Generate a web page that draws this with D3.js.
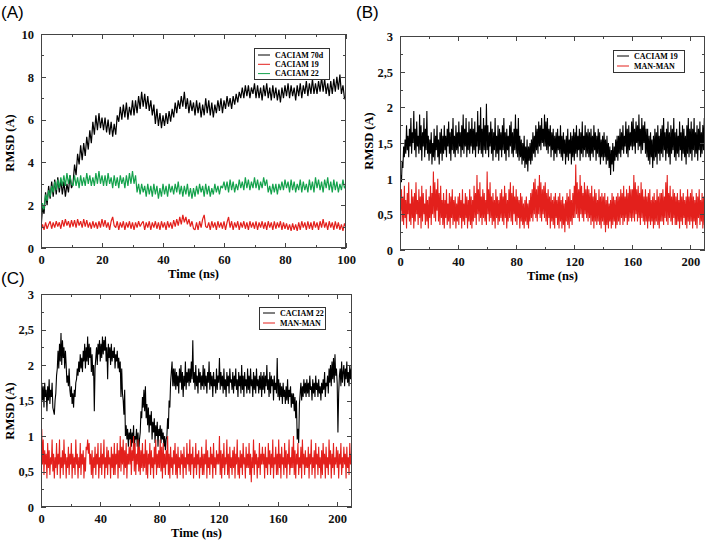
<!DOCTYPE html>
<html><head><meta charset="utf-8">
<script src="https://cdn.jsdelivr.net/npm/d3@7"></script>
<style>body{margin:0;background:#fff}svg{display:block}</style>
</head><body><svg id="c" width="709" height="544"></svg>
<script>
// ---------- DATA ----------
// Panel A: 0..100 ns, every 0.5 ns
const timeEndA = 100;
const caciam70dA = [
0.9,1.9,1.6,2.6,2.0,2.9,2.3,3.1,2.4,3.2,2.5,3.3,2.6,3.2,2.5,3.1,2.4,3.0,2.6,3.4,2.8,
3.0,3.9,3.4,4.4,3.9,4.8,4.1,4.9,4.3,5.2,4.6,5.5,4.9,5.9,5.3,6.2,5.5,6.3,5.6,6.1,
5.5,6.1,5.4,6.0,5.3,5.9,5.2,5.8,5.3,6.2,5.9,6.6,6.0,6.7,6.1,6.8,6.0,6.6,6.2,6.9,
6.2,6.9,6.3,7.1,6.5,7.3,6.6,7.2,6.5,7.1,6.4,6.9,6.2,6.7,5.8,6.5,5.7,6.3,5.6,6.2,
5.7,6.3,5.8,6.4,5.9,6.5,6.1,6.8,6.3,6.9,6.5,7.1,6.6,7.3,6.5,7.0,6.3,6.9,6.4,6.8,
6.2,6.9,6.3,6.8,6.1,6.7,6.2,7.0,6.3,6.9,6.2,6.8,6.1,6.7,6.3,6.9,6.4,7.0,6.3,6.9,
6.5,7.1,6.6,7.0,6.5,7.1,6.7,7.2,6.8,7.3,7.0,7.5,7.0,7.6,7.1,7.6,7.0,7.5,7.2,7.7,
7.0,7.6,7.0,7.5,6.9,7.6,7.1,7.7,7.0,7.5,6.9,7.6,7.0,7.5,6.9,7.4,6.8,7.5,7.0,7.6,
7.1,7.7,7.0,7.6,7.1,7.5,6.9,7.6,7.1,7.7,7.0,7.6,7.2,7.8,7.1,7.7,7.2,7.9,7.2,7.7,
7.2,7.8,7.3,8.0,7.3,7.9,7.2,7.7,7.1,7.8,7.2,7.9,7.3,8.0,7.4,8.1,7.2,7.6,7.0,6.9];
const caciam19A = [
0.8,1.1,0.85,1.2,0.9,1.1,1.25,0.9,1.2,0.95,1.25,1.0,1.2,0.9,1.3,1.0,1.35,1.05,1.25,0.95,1.3,
1.0,1.3,0.95,1.35,1.05,1.25,0.95,1.35,1.0,1.3,0.95,1.2,0.9,1.25,0.95,1.2,0.9,1.25,0.95,1.35,
1.0,1.3,0.95,1.2,0.85,1.25,1.45,1.05,0.95,1.25,0.85,1.2,0.95,1.25,0.85,1.2,0.95,1.25,0.9,1.2,
0.85,1.2,0.95,1.25,1.0,1.15,1.25,0.85,1.2,0.95,1.25,0.85,1.2,0.95,1.25,0.9,1.2,0.85,1.25,0.95,
1.2,0.85,1.25,0.95,1.2,0.9,1.3,1.0,1.35,1.05,1.45,1.1,1.55,1.2,1.45,1.1,1.35,1.0,1.25,0.9,
0.85,1.2,0.85,1.25,0.95,1.35,1.55,1.0,0.95,1.2,0.85,1.25,0.95,1.2,0.85,1.25,0.95,1.2,0.9,1.25,
0.85,1.2,1.45,0.95,1.25,0.85,1.2,0.95,1.25,0.85,1.2,0.95,1.25,0.9,1.2,0.85,1.25,0.95,1.2,0.9,
1.25,0.85,1.2,0.95,1.25,0.9,1.2,0.85,1.25,0.95,1.2,0.85,1.25,0.9,1.2,0.95,1.25,0.85,1.2,0.9,
1.15,0.85,1.1,0.8,1.15,0.85,1.1,0.8,1.2,0.85,1.25,0.95,1.2,0.85,1.25,0.9,1.2,0.85,1.25,0.95,
1.2,0.85,1.25,0.95,1.35,0.95,1.2,0.85,1.25,0.95,1.2,0.85,1.25,0.9,1.2,0.85,1.1,0.8,1.15,0.95];
const caciam22A = [
1.5,2.1,1.8,2.5,2.2,2.7,2.4,2.9,2.6,3.1,2.7,3.2,2.8,3.3,2.9,3.4,2.9,3.5,3.0,3.4,3.0,
2.9,3.4,2.9,3.3,2.8,3.4,2.9,3.3,2.9,3.5,3.0,3.4,2.9,3.3,2.9,3.5,3.0,3.6,3.0,3.4,
2.9,3.4,2.9,3.5,3.0,3.3,2.8,3.4,2.9,3.3,2.8,3.4,3.0,3.3,2.8,3.4,2.9,3.5,3.0,3.6,
3.0,3.4,2.6,3.0,2.5,3.0,2.6,2.9,2.4,3.0,2.5,2.9,2.4,3.0,2.5,2.9,2.3,2.8,2.4,3.0,
2.5,2.9,2.4,3.0,2.6,2.9,2.5,3.0,2.6,3.1,2.5,2.9,2.4,2.9,2.5,3.0,2.4,2.8,2.3,2.8,
2.4,2.9,2.5,3.0,2.6,2.9,2.4,3.0,2.5,2.9,2.4,2.8,2.5,3.0,2.6,2.9,2.5,2.9,2.8,3.1,
2.7,3.1,2.6,3.2,2.7,3.1,2.6,3.0,2.7,3.2,2.8,3.1,2.7,3.3,2.8,3.2,2.7,3.1,2.8,3.3,
2.8,3.2,2.7,3.1,2.8,3.3,2.9,3.2,2.6,2.9,2.5,3.0,2.6,3.0,2.5,3.0,2.7,3.1,2.7,3.2,
2.8,3.1,2.6,3.2,2.7,3.1,2.6,3.0,2.7,3.2,2.6,3.1,2.7,3.0,2.6,3.2,2.7,3.1,2.6,3.3,
2.8,3.2,2.7,3.1,2.6,3.2,2.8,3.3,2.7,3.1,2.6,3.2,2.7,3.1,2.6,3.0,2.7,3.2,2.8,2.9];

// Panel B: 0..210 ns, every 0.5 ns
const timeEndB = 210;
const caciam19B = [
0.80,1.05,0.95,1.25,1.15,1.45,1.30,1.55,1.35,1.75,1.40,1.60,1.30,1.70,1.45,1.85,1.35,1.65,1.50,1.95,
1.40,1.70,1.30,1.80,1.45,1.60,1.35,1.90,1.40,1.75,1.25,1.65,1.45,1.85,1.30,1.70,1.40,1.95,1.35,1.60,
1.25,1.55,1.35,1.65,1.20,1.50,1.30,1.70,1.25,1.60,1.40,1.75,1.30,1.55,1.20,1.65,1.35,1.70,1.25,1.60,
1.35,1.75,1.40,1.60,1.30,1.70,1.45,1.80,1.35,1.65,1.25,1.70,1.40,1.85,1.35,1.60,1.30,1.75,1.40,1.65,
1.35,1.80,1.45,1.65,1.30,1.75,1.40,1.90,1.35,1.70,1.45,1.85,1.30,1.65,1.40,1.80,1.35,1.70,1.45,1.85,
1.35,1.70,1.40,1.80,1.30,1.65,1.45,1.95,1.35,1.75,1.40,2.00,1.35,1.70,1.30,1.85,1.40,1.75,1.35,2.05,
1.40,1.75,1.30,1.65,1.45,1.80,1.35,1.70,1.25,1.65,1.40,1.85,1.30,1.60,1.35,1.75,1.25,1.70,1.40,1.65,
1.30,1.75,1.40,1.85,1.35,1.65,1.25,1.70,1.40,1.60,1.30,1.75,1.45,1.80,1.35,1.65,1.30,1.70,1.40,1.90,
1.35,1.70,1.30,1.85,1.25,1.60,1.30,1.55,1.20,1.50,1.25,1.60,1.15,1.45,1.20,1.55,1.10,1.45,1.25,1.50,
1.20,1.55,1.25,1.65,1.35,1.60,1.30,1.75,1.40,1.70,1.35,1.80,1.45,1.75,1.40,1.85,1.50,1.70,1.45,1.90,
1.45,1.80,1.40,1.85,1.35,1.70,1.45,1.75,1.30,1.65,1.40,1.70,1.25,1.60,1.35,1.65,1.30,1.70,1.40,1.60,
1.35,1.75,1.30,1.60,1.25,1.65,1.35,1.55,1.20,1.60,1.30,1.70,1.25,1.55,1.35,1.65,1.20,1.60,1.30,1.70,
1.25,1.65,1.35,1.75,1.30,1.60,1.40,1.70,1.25,1.65,1.35,1.80,1.30,1.60,1.40,1.75,1.30,1.65,1.35,1.70,
1.30,1.65,1.25,1.70,1.35,1.60,1.30,1.75,1.40,1.65,1.25,1.60,1.35,1.70,1.30,1.65,1.20,1.55,1.30,1.60,
1.25,1.65,1.30,1.55,1.20,1.60,1.25,1.50,1.15,1.45,1.05,1.40,1.20,1.50,1.10,1.45,1.25,1.55,1.30,1.60,
1.25,1.60,1.35,1.70,1.30,1.65,1.40,1.75,1.35,1.60,1.45,1.80,1.35,1.70,1.30,1.75,1.40,1.65,1.45,1.80,
1.40,1.85,1.45,1.70,1.35,1.80,1.50,1.75,1.40,1.90,1.45,1.70,1.35,1.85,1.40,1.75,1.50,1.80,1.35,1.70,
1.30,1.70,1.25,1.60,1.20,1.65,1.30,1.55,1.15,1.60,1.25,1.70,1.30,1.65,1.20,1.75,1.35,1.60,1.25,1.70,
1.35,1.75,1.30,1.85,1.40,1.65,1.25,1.70,1.35,1.80,1.30,1.65,1.20,1.75,1.35,1.70,1.40,1.85,1.30,1.65,
1.25,1.70,1.35,1.60,1.30,1.80,1.40,1.65,1.25,1.75,1.35,1.70,1.30,1.60,1.20,1.75,1.35,1.85,1.30,1.70,
1.35,1.80,1.25,1.70,1.40,1.85,1.30,1.65,1.35,1.75,1.25,1.70,1.40,1.80,1.30,1.65,1.35,1.75,1.40,1.85,1.45];
const manmanB = [
1.00,0.55,0.85,0.40,0.75,0.35,0.90,0.45,0.70,0.30,0.80,0.50,0.95,0.40,0.65,0.35,0.85,0.45,0.75,0.30,
0.80,0.40,0.95,0.50,0.70,0.35,0.85,0.45,0.75,0.30,0.90,0.40,0.80,0.50,0.65,0.35,0.85,0.40,0.70,0.30,
0.75,0.45,0.90,0.35,0.80,0.50,1.10,0.45,0.95,0.40,0.85,0.55,1.00,0.40,0.80,0.35,0.90,0.45,0.70,0.35,
0.80,0.30,0.70,0.45,0.85,0.35,0.65,0.40,0.80,0.30,0.75,0.45,0.85,0.35,0.70,0.40,0.75,0.30,0.65,0.40,
0.75,0.35,0.80,0.45,0.70,0.30,0.85,0.40,0.65,0.35,0.80,0.45,0.75,0.30,0.70,0.40,0.85,0.35,0.75,0.30,
0.70,0.40,0.90,0.45,0.80,0.35,1.05,0.50,0.85,0.40,0.95,0.45,0.75,0.35,0.85,0.45,0.80,0.40,0.70,0.35,
1.10,0.50,0.85,0.40,0.95,0.45,0.75,0.35,0.80,0.40,0.70,0.30,0.85,0.45,0.75,0.35,0.70,0.40,0.80,0.45,
0.85,0.40,0.75,0.35,0.90,0.45,0.80,0.30,0.70,0.40,0.85,0.45,0.95,0.40,0.80,0.35,0.90,0.50,0.75,0.40,
0.85,0.35,0.75,0.45,0.70,0.30,0.80,0.40,0.75,0.35,0.65,0.30,0.70,0.40,0.75,0.35,0.65,0.30,0.70,0.40,
0.80,0.45,0.85,0.40,0.95,0.50,1.00,0.45,0.85,0.40,0.90,0.50,1.05,0.45,0.95,0.40,0.85,0.50,0.90,0.45,
0.95,0.40,0.80,0.35,0.85,0.45,0.75,0.30,0.80,0.40,0.70,0.35,0.75,0.30,0.80,0.45,0.70,0.35,0.75,0.30,
0.80,0.40,0.70,0.30,0.75,0.35,0.65,0.25,0.70,0.40,0.80,0.35,0.75,0.30,0.85,0.40,0.70,0.35,0.80,0.45,
0.90,0.45,1.20,0.50,0.95,0.45,0.85,0.40,1.05,0.50,0.90,0.45,0.80,0.40,0.95,0.50,0.85,0.45,0.90,0.40,
0.85,0.45,0.80,0.35,0.90,0.40,0.75,0.30,0.85,0.40,0.80,0.35,0.70,0.40,0.85,0.35,0.75,0.30,0.80,0.40,
0.75,0.35,0.80,0.25,0.70,0.35,0.75,0.30,0.65,0.40,0.70,0.30,0.80,0.35,0.75,0.40,0.70,0.30,0.75,0.35,
0.80,0.40,0.75,0.35,0.85,0.45,0.80,0.35,0.90,0.40,0.75,0.45,0.85,0.35,0.80,0.40,0.90,0.45,0.85,0.40,
0.85,0.45,1.05,0.40,0.95,0.50,0.85,0.40,0.90,0.45,0.80,0.35,0.95,0.45,0.85,0.40,0.75,0.35,0.85,0.40,
0.75,0.30,0.80,0.40,0.85,0.35,0.70,0.40,0.75,0.30,0.80,0.35,0.70,0.40,0.85,0.35,0.75,0.30,0.80,0.40,
0.80,0.40,0.85,0.35,0.75,0.45,0.95,0.40,1.05,0.35,0.80,0.45,0.90,0.40,0.75,0.35,0.85,0.45,0.80,0.35,
0.75,0.35,0.80,0.40,0.70,0.30,0.85,0.40,0.75,0.35,0.80,0.45,0.70,0.35,0.75,0.30,0.85,0.40,0.75,0.35,
0.80,0.40,0.85,0.30,0.75,0.40,0.70,0.35,0.80,0.30,0.75,0.45,0.85,0.35,0.70,0.40,0.80,0.30,0.75,0.35,0.55];

// Panel C: 0..210 ns, every 0.5 ns
const timeEndC = 210;
const caciam22C = [
1.00,1.75,1.50,1.70,1.40,1.75,1.55,1.65,1.35,1.70,1.50,1.80,1.45,1.65,1.55,1.75,1.40,1.35,1.30,1.50,
1.60,1.85,1.95,2.20,1.95,2.30,2.05,2.45,2.00,2.35,2.10,2.25,1.95,2.20,2.00,1.75,1.85,1.70,1.95,1.65,
1.55,1.70,1.45,1.60,1.40,1.65,1.55,1.75,1.80,1.95,1.85,2.05,1.90,2.15,1.95,2.10,1.90,2.20,2.05,2.30,
1.95,2.25,2.05,2.40,2.00,2.30,2.10,2.25,1.90,2.15,1.85,2.00,1.35,1.95,2.10,2.25,2.00,2.30,2.15,2.35,
2.05,2.30,2.10,2.40,2.15,2.35,2.20,2.40,2.05,2.25,1.80,2.30,2.10,2.25,2.00,2.30,2.05,2.20,2.10,2.25,
1.95,2.15,2.05,2.20,1.95,2.10,1.90,2.05,1.55,1.95,1.60,1.50,1.30,1.65,1.00,1.15,0.95,1.10,0.85,1.05,
0.95,1.10,0.85,1.05,0.90,1.15,0.80,1.00,0.95,1.10,0.85,1.05,0.75,0.95,1.05,1.35,1.25,1.55,1.40,1.65,
1.35,1.70,1.25,1.45,1.15,1.40,1.05,1.30,1.15,1.35,0.95,1.20,1.05,1.25,0.90,1.15,1.00,1.20,0.85,1.10,
1.00,1.15,0.90,1.10,0.95,1.05,0.85,1.00,0.80,0.95,1.00,1.25,1.10,1.50,1.40,1.75,1.90,2.05,1.70,1.95,
1.70,1.95,1.65,1.90,1.70,1.85,1.60,1.95,1.75,2.00,1.65,1.90,1.55,1.85,1.70,2.05,1.65,1.90,1.75,1.95,
1.70,1.95,1.75,2.05,1.80,2.35,1.75,1.90,1.65,2.00,1.70,1.85,1.60,1.95,1.75,1.90,1.65,1.85,1.70,2.00,
1.65,1.95,1.70,1.85,1.60,1.90,1.75,2.05,1.65,1.90,1.70,1.85,1.55,1.90,1.70,1.80,1.60,1.95,1.65,1.85,
1.75,2.10,1.65,1.90,1.70,1.85,1.60,1.95,1.65,1.80,1.55,1.90,1.70,1.85,1.60,1.95,1.75,1.80,1.65,1.90,
1.60,1.85,1.70,1.95,1.65,1.80,1.55,1.90,1.70,1.85,1.60,2.00,1.65,1.85,1.55,1.90,1.70,1.80,1.60,1.95,
1.65,1.85,1.60,1.95,1.70,1.80,1.55,1.90,1.65,1.85,1.60,1.95,1.70,1.80,1.60,1.85,1.65,1.90,1.55,1.85,
1.65,1.90,1.60,1.85,1.70,2.00,1.65,1.80,1.55,1.90,1.60,1.85,1.70,1.80,1.50,1.85,1.65,1.75,1.60,2.10,
1.55,1.80,1.50,1.75,1.55,1.70,1.45,1.75,1.55,1.65,1.45,1.70,1.50,1.80,1.45,1.65,1.55,1.70,1.40,1.60,
1.45,1.60,1.35,1.55,1.25,1.50,0.95,1.10,0.90,1.45,1.60,1.75,1.50,1.70,1.55,1.80,1.60,1.75,1.55,1.80,
1.60,1.75,1.55,1.85,1.65,1.70,1.50,1.80,1.60,1.75,1.55,1.85,1.65,1.75,1.55,1.80,1.60,1.70,1.50,1.75,
1.60,1.80,1.65,1.90,1.55,1.75,1.70,1.85,1.60,1.95,1.75,2.00,1.70,2.05,1.80,2.10,1.75,2.15,1.85,1.95,
1.75,1.05,1.60,1.85,1.95,1.70,2.05,1.75,1.90,2.00,1.70,1.95,1.80,2.05,1.75,1.90,1.70,2.00,1.80,1.95,1.85];
const manmanC = [
0.80,1.10,0.60,0.95,0.45,0.80,0.60,0.75,0.40,0.90,0.55,0.80,0.45,0.70,0.60,0.95,0.50,0.75,0.40,0.70,
0.55,0.90,0.45,0.75,0.60,0.95,0.40,0.70,0.55,0.80,0.45,0.95,0.60,0.75,0.40,0.70,0.55,0.85,0.45,0.75,
0.60,0.90,0.40,0.75,0.55,0.70,0.45,0.95,0.60,0.75,0.40,0.70,0.55,0.90,0.45,0.75,0.60,0.80,0.40,0.70,
0.50,0.85,0.80,0.95,0.75,0.90,0.60,0.75,0.45,0.80,0.40,0.70,0.55,0.85,0.45,0.75,0.60,0.90,0.40,0.70,
0.55,0.90,0.45,0.75,0.60,0.95,0.40,0.70,0.55,0.85,0.45,0.80,0.60,0.70,0.40,0.85,0.55,0.75,0.45,0.90,
0.45,0.75,0.60,0.90,0.40,0.80,0.55,1.00,0.50,0.85,0.60,0.95,0.45,0.80,0.55,0.90,0.40,0.75,0.60,0.85,
0.60,0.95,0.45,0.80,0.65,1.00,0.50,0.90,0.45,0.75,0.60,0.95,0.50,0.85,0.45,0.80,0.55,0.90,0.50,0.75,
0.55,0.95,0.45,0.80,0.40,0.75,0.60,0.90,0.45,0.80,0.55,0.70,0.40,0.85,0.60,0.95,0.45,0.75,0.55,0.80,
0.55,0.95,0.50,0.85,0.40,0.90,0.55,0.75,0.45,0.80,0.60,1.00,0.45,0.75,0.40,0.85,0.55,0.70,0.45,0.80,
0.60,0.90,0.45,0.75,0.40,0.85,0.55,0.70,0.45,0.80,0.60,0.75,0.40,0.85,0.55,0.70,0.45,0.90,0.60,0.75,
0.50,0.95,0.45,0.75,0.60,0.85,0.40,0.70,0.55,0.90,0.45,0.75,0.60,0.80,0.40,0.70,0.55,0.85,0.45,0.75,
0.45,0.75,0.60,0.95,0.40,0.80,0.55,0.70,0.45,0.85,0.60,0.75,0.40,0.90,0.55,0.70,0.45,0.80,0.60,0.75,
0.60,1.00,0.45,0.80,0.40,0.75,0.55,0.90,0.45,0.70,0.60,0.95,0.45,0.75,0.40,0.85,0.55,0.70,0.45,0.80,
0.55,0.85,0.40,0.75,0.60,0.95,0.45,0.70,0.40,0.80,0.55,0.75,0.45,0.90,0.60,0.70,0.40,0.85,0.55,0.75,
0.55,0.90,0.45,0.75,0.35,0.70,0.55,0.95,0.45,0.80,0.60,0.75,0.40,0.70,0.55,0.90,0.45,0.75,0.60,0.85,
0.60,0.75,0.40,0.85,0.55,0.70,0.45,0.90,0.60,0.80,0.45,0.75,0.55,0.95,0.40,0.70,0.60,0.85,0.45,0.75,
0.45,0.95,0.55,0.75,0.40,0.85,0.60,0.70,0.45,0.90,0.55,0.80,0.40,0.75,0.60,0.95,0.45,0.70,0.55,0.85,
0.55,1.00,0.45,0.80,0.40,0.75,0.60,0.90,0.45,0.70,0.55,0.85,0.40,0.95,0.60,0.75,0.45,0.80,0.55,0.70,
0.55,0.85,0.40,0.75,0.60,0.95,0.45,0.70,0.55,0.80,0.40,0.90,0.60,0.75,0.45,0.85,0.55,0.70,0.40,0.80,
0.45,0.90,0.60,0.75,0.40,0.85,0.55,0.70,0.45,0.95,0.60,0.80,0.40,0.75,0.55,0.90,0.45,0.70,0.60,0.85,
0.55,0.80,0.40,0.75,0.60,0.90,0.45,0.70,0.55,0.85,0.60,0.75,0.40,0.85,0.55,0.70,0.45,0.90,0.60,0.75,0.60];

// Ticks and legend labels
const xTicksA = [0,20,40,60,80,100], xMinorA = [10,30,50,70,90];
const yTicksA = [0,2,4,6,8,10], yMinorA = [1,3,5,7,9];
const xTicksBC = [0,40,80,120,160,200], xMinorBC = [20,60,100,140,180];
const yTicksBC = [0,0.5,1,1.5,2,2.5,3], yMinorBC = [0.25,0.75,1.25,1.75,2.25,2.75];
const legendA = ["CACIAM 70d","CACIAM 19","CACIAM 22"];
const legendB = ["CACIAM 19","MAN-MAN"];
const legendC = ["CACIAM 22","MAN-MAN"];

// ---------- DRAW ----------
const BLACK="#000", RED="#e3201c", GREEN="#14a24c";
const SERIF="'Liberation Serif','Times New Roman',Times,serif";
const SANS="'Liberation Sans',Arial,Helvetica,sans-serif";
const svg=d3.select('#c');
const fmt=d=>String(d).replace('.',',');
const AX="#444";

function panel(p){
  const g=svg.append('g');
  const x=d3.scaleLinear().domain([0,p.xMax]).range([p.left,p.right]);
  const y=d3.scaleLinear().domain([0,p.yMax]).range([p.bottom,p.top]);
  const cid='clip'+p.name;
  svg.append('clipPath').attr('id',cid).append('rect')
    .attr('x',p.left).attr('y',p.top).attr('width',p.right-p.left).attr('height',p.bottom-p.top);
  const lg=g.append('g').attr('clip-path',`url(#${cid})`);
  p.series.forEach(s=>{
    const n=s.values.length;
    const line=d3.line().x((d,i)=>x(i*p.xMax/(n-1))).y(d=>y(d));
    lg.append('path').attr('d',line(s.values)).attr('fill','none')
      .attr('stroke',s.color).attr('stroke-width',p.sw).attr('stroke-linejoin','bevel');
  });
  g.append('rect').attr('x',p.left+0.5).attr('y',p.top+0.5)
    .attr('width',p.right-p.left-1).attr('height',p.bottom-p.top-1)
    .attr('fill','none').attr('stroke',AX).attr('stroke-width',1);
  function ax(gen,tr,vals,size,labels){
    const a=g.append('g').attr('transform',tr)
      .call(gen.tickValues(vals).tickSize(-size).tickFormat(labels?fmt:''));
    a.select('.domain').remove();
    a.selectAll('.tick line').attr('stroke',AX).attr('shape-rendering','crispEdges');
    a.selectAll('text').attr('font-family',SERIF).attr('font-weight','bold').attr('font-size',12.5).attr('fill','#111');
    return a;
  }
  const bx=ax(d3.axisBottom(x),`translate(0,${p.bottom})`,p.xTicks,5,true);
  bx.selectAll('text').attr('y',16).attr('dy',null);
  ax(d3.axisBottom(x),`translate(0,${p.bottom})`,p.xMinor,3,false);
  ax(d3.axisTop(x),`translate(0,${p.top})`,p.xTicks,5,false);
  ax(d3.axisTop(x),`translate(0,${p.top})`,p.xMinor,3,false);
  const ly=ax(d3.axisLeft(y),`translate(${p.left},0)`,p.yTicks,5,true);
  ly.selectAll('text').attr('x',-7).attr('dy','0.35em');
  ax(d3.axisLeft(y),`translate(${p.left},0)`,p.yMinor,3,false);
  ax(d3.axisRight(y),`translate(${p.right},0)`,p.yTicks,5,false);
  ax(d3.axisRight(y),`translate(${p.right},0)`,p.yMinor,3,false);
  g.append('text').attr('x',(p.left+p.right)/2).attr('y',p.bottom+30).attr('text-anchor','middle')
    .attr('font-family',SERIF).attr('font-weight','bold').attr('font-size',12.5).text('Time (ns)');
  g.append('text').attr('transform',`translate(${p.left-31},${p.yTitleC}) rotate(-90)`)
    .attr('text-anchor','middle').attr('dominant-baseline','central')
    .attr('font-family',SERIF).attr('font-weight','bold').attr('font-size',12.5).text('RMSD (A)');
  g.append('text').attr('x',p.tagX).attr('y',p.tagY).attr('font-family',SANS).attr('font-size',17).text(p.tag);
  const L=p.legend;
  g.append('rect').attr('x',L.x+0.5).attr('y',L.y+0.5).attr('width',L.w).attr('height',L.h)
    .attr('fill','#fff').attr('stroke','#333').attr('stroke-width',1);
  L.labels.forEach((t,i)=>{
    const yy=L.y+L.r0+i*L.dr;
    g.append('line').attr('x1',L.x+4).attr('x2',L.x+16).attr('y1',yy).attr('y2',yy)
      .attr('stroke',p.series[L.order[i]].color).attr('stroke-width',1);
    g.append('text').attr('x',L.x+21).attr('y',yy).attr('dy','0.35em')
      .attr('font-family',SERIF).attr('font-weight','bold').attr('font-size',8).text(t);
  });
}

panel({name:'A',left:41,right:346,top:34,bottom:248,xMax:timeEndA,yMax:10,sw:1.2,
  xTicks:xTicksA,xMinor:xMinorA,yTicks:yTicksA,yMinor:yMinorA,yTitleC:143,
  tag:'(A)',tagX:1,tagY:18,
  series:[{values:caciam70dA,color:BLACK},{values:caciam19A,color:RED},{values:caciam22A,color:GREEN}],
  legend:{x:254,y:48,w:75,h:31,r0:7,dr:9.3,labels:legendA,order:[0,1,2]}});
panel({name:'B',left:400,right:705,top:36,bottom:250,xMax:timeEndB,yMax:3,sw:1.1,
  xTicks:xTicksBC,xMinor:xMinorBC,yTicks:yTicksBC,yMinor:yMinorBC,yTitleC:141,
  tag:'(B)',tagX:356,tagY:18,
  series:[{values:caciam19B,color:BLACK},{values:manmanB,color:RED}],
  legend:{x:613,y:50,w:71,h:22,r0:6,dr:10,labels:legendB,order:[0,1]}});
panel({name:'C',left:41,right:352,top:294,bottom:507,xMax:timeEndC,yMax:3,sw:1.1,
  xTicks:xTicksBC,xMinor:xMinorBC,yTicks:yTicksBC,yMinor:yMinorBC,yTitleC:411,
  tag:'(C)',tagX:1,tagY:284,
  series:[{values:caciam22C,color:BLACK},{values:manmanC,color:RED}],
  legend:{x:259,y:307,w:66,h:22,r0:6,dr:10,labels:legendC,order:[0,1]}});
</script></body></html>
